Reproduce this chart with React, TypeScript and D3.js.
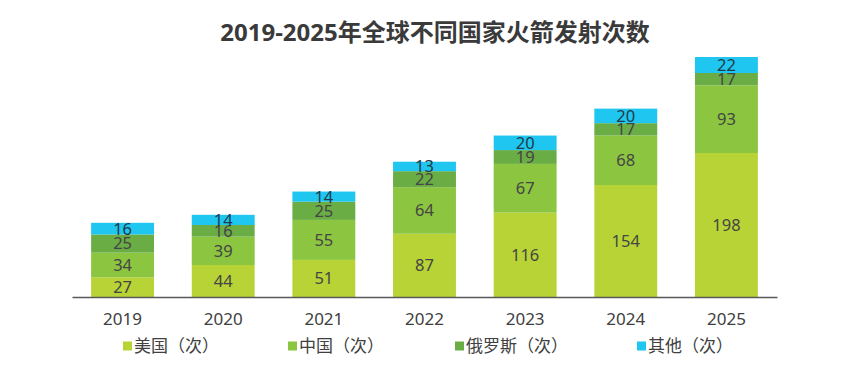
import { useEffect, useRef } from 'react';
import * as d3 from 'd3';

const years = ['2019', '2020', '2021', '2022', '2023', '2024', '2025'];
const usa = [27, 44, 51, 87, 116, 154, 198];
const china = [34, 39, 55, 64, 67, 68, 93];
const russia = [25, 16, 25, 22, 19, 17, 17];
const others = [16, 14, 14, 13, 20, 20, 22];
const seriesNames = ['美国（次）', '中国（次）', '俄罗斯（次）', '其他（次）'];
const seriesColors = ['#b7d335', '#8cc540', '#6aad45', '#1fc6ef'];

const W = 857;
const H = 389;
const FONT = '"Noto Sans", "Noto Sans CJK SC", sans-serif';

const App = () => {
  const svgRef = useRef<SVGSVGElement>(null);

  useEffect(() => {
    const svg = d3.select(svgRef.current);
    svg.selectAll('*').remove();

    const table = years.map((y, i) => ({
      year: y,
      s0: usa[i],
      s1: china[i],
      s2: russia[i],
      s3: others[i],
    }));
    const keys = ['s0', 's1', 's2', 's3'];
    const stacked = d3.stack<any>().keys(keys)(table);

    const x = d3.scaleBand().domain(years).range([72, 777]).paddingInner(0.375).paddingOuter(0.19);
    const y = d3.scaleLinear().domain([0, 330]).range([297, 57]);

    // title
    svg.append('text')
      .attr('x', 435)
      .attr('y', 41)
      .attr('text-anchor', 'middle')
      .attr('font-family', '"Open Sans", "Noto Sans CJK SC", sans-serif')
      .attr('font-size', 24)
      .attr('font-weight', 'bold')
      .attr('fill', '#3a3a3a')
      .text('2019-2025年全球不同国家火箭发射次数');

    // bars
    const layers = svg.append('g')
      .selectAll('g')
      .data(stacked)
      .enter()
      .append('g')
      .attr('fill', (_d, i) => seriesColors[i]);

    layers.selectAll('rect')
      .data(d => d)
      .enter()
      .append('rect')
      .attr('x', d => x(d.data.year) || 0)
      .attr('y', d => y(d[1]))
      .attr('width', x.bandwidth())
      .attr('height', d => y(d[0]) - y(d[1]));

    // value labels
    stacked.forEach((layer, li) => {
      svg.append('g')
        .selectAll('text')
        .data(layer)
        .enter()
        .append('text')
        .attr('x', d => (x(d.data.year) || 0) + x.bandwidth() / 2)
        .attr('y', d => (y(d[0]) + y(d[1])) / 2)
        .attr('dy', '0.36em')
        .attr('text-anchor', 'middle')
        .attr('font-family', FONT)
        .attr('font-size', 16.5)
        .attr('fill', li === 3 ? '#1f3a4a' : '#454545')
        .text(d => d[1] - d[0]);
    });

    // x axis
    const axis = svg.append('g')
      .attr('transform', 'translate(0,297)')
      .call(d3.axisBottom(x).tickSize(0).tickPadding(16));
    axis.select('.domain').attr('stroke', '#595959').attr('stroke-width', 1.3);
    axis.selectAll('text')
      .attr('font-family', FONT)
      .attr('font-size', 17)
      .attr('fill', '#404040');

    // legend
    const legendX = [123, 288, 455, 637];
    const legend = svg.append('g')
      .selectAll('g')
      .data(seriesNames)
      .enter()
      .append('g')
      .attr('transform', (_d, i) => `translate(${legendX[i]},346)`);
    legend.append('rect')
      .attr('x', 0)
      .attr('y', -4.5)
      .attr('width', 9)
      .attr('height', 9)
      .attr('fill', (_d, i) => seriesColors[i]);
    legend.append('text')
      .attr('x', 11)
      .attr('y', 0)
      .attr('dy', '0.38em')
      .attr('font-family', '"Noto Sans CJK SC", sans-serif')
      .attr('font-size', 17)
      .attr('fill', '#404040')
      .text(d => d);
  }, []);

  return (
    <svg ref={svgRef} width={W} height={H} style={{ display: 'block', position: 'absolute', left: 0, top: 0 }}></svg>
  );
};

export default App;
